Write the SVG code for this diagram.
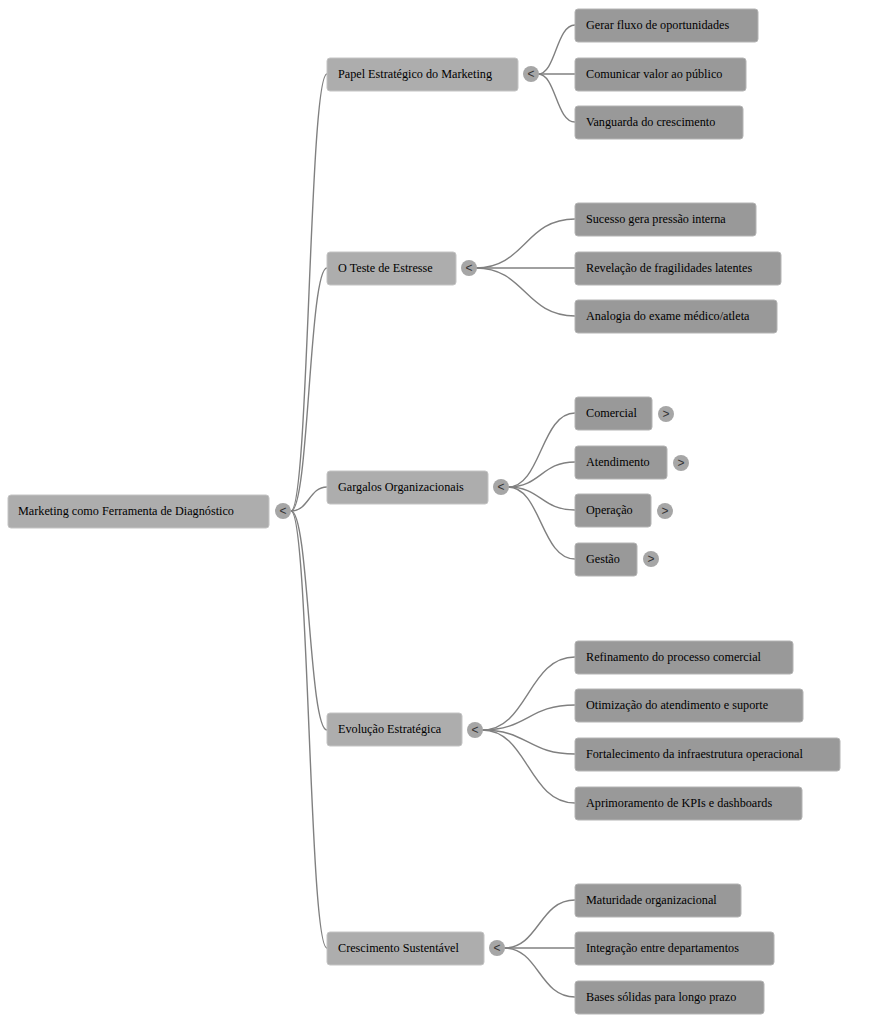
<svg xmlns="http://www.w3.org/2000/svg" width="869" height="1024" viewBox="0 0 869 1024">
<style>
.b1{fill:#adadad;stroke:#c4c4c4;stroke-width:1}
.b2{fill:#999999;stroke:#b4b4b4;stroke-width:1}
.t{font-family:"Liberation Serif","Times New Roman",serif;font-size:12.2px;fill:#000}
.c{fill:#a6a6a6}
.ct{font-family:"Liberation Sans",Arial,sans-serif;font-size:12px;fill:#333;text-anchor:middle}
.e{fill:none;stroke:#808080;stroke-width:1.4}
</style>
<rect width="869" height="1024" fill="#ffffff"/>
<g id="connectors">
<path class="e" d="M291 511 C309 511 309 74 327 74"/>
<path class="e" d="M291 511 C309 511 309 268 327 268"/>
<path class="e" d="M291 511 C309 511 309 487 327 487"/>
<path class="e" d="M291 511 C309 511 309 730 327 730"/>
<path class="e" d="M291 511 C309 511 309 948 327 948"/>
<path class="e" d="M538 74 C556 74 556 25 575 25"/>
<path class="e" d="M538 74 C556 74 556 74 575 74"/>
<path class="e" d="M538 74 C556 74 556 122 575 122"/>
<path class="e" d="M476 268 C525 268 525 219 575 219"/>
<path class="e" d="M476 268 C525 268 525 268 575 268"/>
<path class="e" d="M476 268 C525 268 525 316 575 316"/>
<path class="e" d="M508 487 C541 487 541 413 575 413"/>
<path class="e" d="M508 487 C541 487 541 462 575 462"/>
<path class="e" d="M508 487 C541 487 541 510 575 510"/>
<path class="e" d="M508 487 C541 487 541 559 575 559"/>
<path class="e" d="M482 730 C528 730 528 657 575 657"/>
<path class="e" d="M482 730 C528 730 528 705 575 705"/>
<path class="e" d="M482 730 C528 730 528 754 575 754"/>
<path class="e" d="M482 730 C528 730 528 803 575 803"/>
<path class="e" d="M504 948 C539 948 539 900 575 900"/>
<path class="e" d="M504 948 C539 948 539 948 575 948"/>
<path class="e" d="M504 948 C539 948 539 997 575 997"/>
</g>
<g id="root">
<rect class="b1" x="8" y="495" width="261" height="33" rx="3"/>
<text class="t" x="18" y="515">Marketing como Ferramenta de Diagnóstico</text>
<circle class="c" cx="283" cy="511" r="8"/><text class="ct" x="283" y="515">&lt;</text>
</g>
<g id="n1">
<rect class="b1" x="327" y="58" width="191" height="33" rx="3"/>
<text class="t" x="338" y="78">Papel Estratégico do Marketing</text>
<circle class="c" cx="531" cy="74" r="8"/><text class="ct" x="531" y="78">&lt;</text>
</g>
<g id="n1a"><rect class="b2" x="575" y="9" width="183" height="33" rx="3"/><text class="t" x="586" y="29">Gerar fluxo de oportunidades</text></g>
<g id="n1b"><rect class="b2" x="575" y="58" width="171" height="33" rx="3"/><text class="t" x="586" y="78">Comunicar valor ao público</text></g>
<g id="n1c"><rect class="b2" x="575" y="106" width="168" height="33" rx="3"/><text class="t" x="586" y="126">Vanguarda do crescimento</text></g>
<g id="n2">
<rect class="b1" x="327" y="252" width="129" height="33" rx="3"/>
<text class="t" x="338" y="272">O Teste de Estresse</text>
<circle class="c" cx="469" cy="268" r="8"/><text class="ct" x="469" y="272">&lt;</text>
</g>
<g id="n2a"><rect class="b2" x="575" y="203" width="181" height="33" rx="3"/><text class="t" x="586" y="223">Sucesso gera pressão interna</text></g>
<g id="n2b"><rect class="b2" x="575" y="252" width="206" height="33" rx="3"/><text class="t" x="586" y="272">Revelação de fragilidades latentes</text></g>
<g id="n2c"><rect class="b2" x="575" y="300" width="202" height="33" rx="3"/><text class="t" x="586" y="320">Analogia do exame médico/atleta</text></g>
<g id="n3">
<rect class="b1" x="327" y="471" width="161" height="33" rx="3"/>
<text class="t" x="338" y="491">Gargalos Organizacionais</text>
<circle class="c" cx="501" cy="487" r="8"/><text class="ct" x="501" y="491">&lt;</text>
</g>
<g id="n3a"><rect class="b2" x="575" y="397" width="77" height="33" rx="3"/><text class="t" x="586" y="417">Comercial</text>
<circle class="c" cx="666" cy="414" r="8"/><text class="ct" x="666" y="418">&gt;</text></g>
<g id="n3b"><rect class="b2" x="575" y="446" width="92" height="33" rx="3"/><text class="t" x="586" y="466">Atendimento</text>
<circle class="c" cx="681" cy="463" r="8"/><text class="ct" x="681" y="467">&gt;</text></g>
<g id="n3c"><rect class="b2" x="575" y="494" width="76" height="33" rx="3"/><text class="t" x="586" y="514">Operação</text>
<circle class="c" cx="665" cy="511" r="8"/><text class="ct" x="665" y="515">&gt;</text></g>
<g id="n3d"><rect class="b2" x="575" y="543" width="62" height="33" rx="3"/><text class="t" x="586" y="563">Gestão</text>
<circle class="c" cx="651" cy="559" r="8"/><text class="ct" x="651" y="563">&gt;</text></g>
<g id="n4">
<rect class="b1" x="327" y="713" width="135" height="33" rx="3"/>
<text class="t" x="338" y="733">Evolução Estratégica</text>
<circle class="c" cx="475" cy="730" r="8"/><text class="ct" x="475" y="734">&lt;</text>
</g>
<g id="n4a"><rect class="b2" x="575" y="641" width="218" height="33" rx="3"/><text class="t" x="586" y="661">Refinamento do processo comercial</text></g>
<g id="n4b"><rect class="b2" x="575" y="689" width="228" height="33" rx="3"/><text class="t" x="586" y="709">Otimização do atendimento e suporte</text></g>
<g id="n4c"><rect class="b2" x="575" y="738" width="265" height="33" rx="3"/><text class="t" x="586" y="758">Fortalecimento da infraestrutura operacional</text></g>
<g id="n4d"><rect class="b2" x="575" y="787" width="227" height="33" rx="3"/><text class="t" x="586" y="807">Aprimoramento de KPIs e dashboards</text></g>
<g id="n5">
<rect class="b1" x="327" y="932" width="157" height="33" rx="3"/>
<text class="t" x="338" y="952">Crescimento Sustentável</text>
<circle class="c" cx="497" cy="948" r="8"/><text class="ct" x="497" y="952">&lt;</text>
</g>
<g id="n5a"><rect class="b2" x="575" y="884" width="166" height="33" rx="3"/><text class="t" x="586" y="904">Maturidade organizacional</text></g>
<g id="n5b"><rect class="b2" x="575" y="932" width="199" height="33" rx="3"/><text class="t" x="586" y="952">Integração entre departamentos</text></g>
<g id="n5c"><rect class="b2" x="575" y="981" width="189" height="33" rx="3"/><text class="t" x="586" y="1001">Bases sólidas para longo prazo</text></g>
</svg>
